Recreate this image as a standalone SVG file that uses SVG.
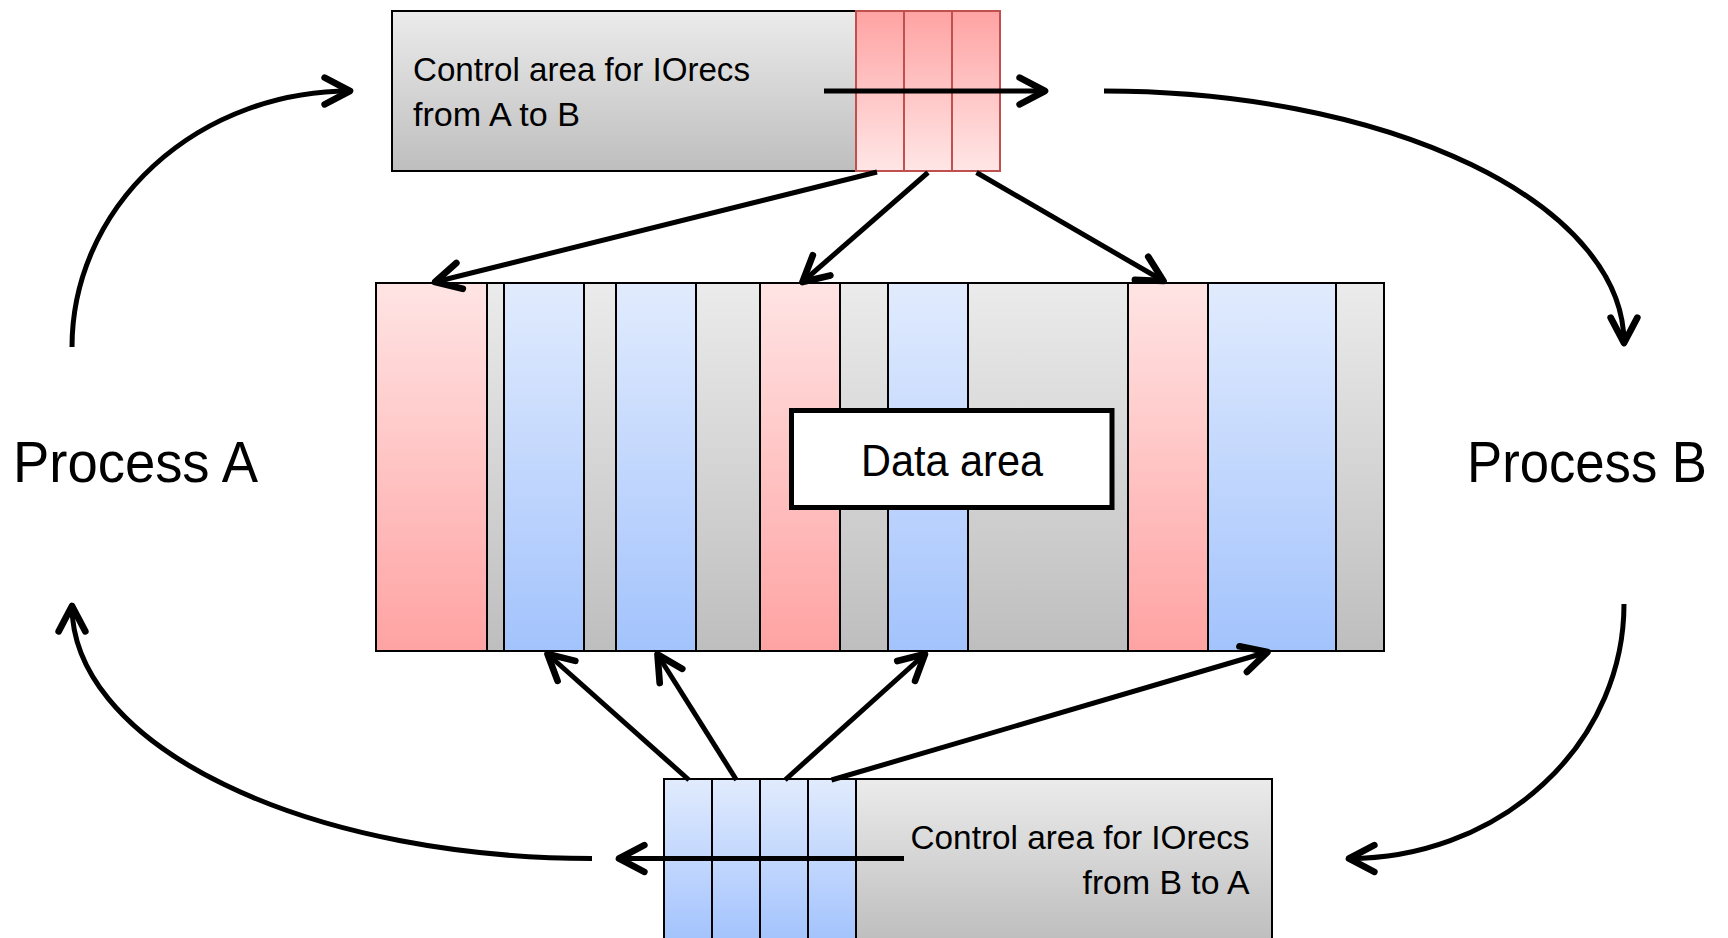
<svg xmlns="http://www.w3.org/2000/svg" width="1728" height="938" viewBox="0 0 1728 938">
<defs>
<linearGradient id="gGray" x1="0" y1="0" x2="0" y2="1"><stop offset="0" stop-color="#EBEBEB"/><stop offset="1" stop-color="#BEBEBE"/></linearGradient>
<linearGradient id="gRed" x1="0" y1="0" x2="0" y2="1"><stop offset="0" stop-color="#FFE4E4"/><stop offset="1" stop-color="#FFA3A3"/></linearGradient>
<linearGradient id="gRedInv" x1="0" y1="0" x2="0" y2="1"><stop offset="0" stop-color="#FFA3A3"/><stop offset="1" stop-color="#FFE6E6"/></linearGradient>
<linearGradient id="gBlue" x1="0" y1="0" x2="0" y2="1"><stop offset="0" stop-color="#E1EBFD"/><stop offset="1" stop-color="#A3C3FD"/></linearGradient>
<marker id="arr" markerUnits="userSpaceOnUse" markerWidth="40" markerHeight="40" viewBox="-25 -15 30 30" refX="0" refY="0" orient="auto" overflow="visible">
<path d="M-19,-10 L0,0 L-19,10" fill="none" stroke="#000" stroke-width="5" stroke-linecap="round" stroke-linejoin="round"/>
</marker>
<style>
.k{stroke:#000;stroke-width:2}
.rc{stroke:#C0504D;stroke-width:2}
.t{font-family:"Liberation Sans",Arial,sans-serif;fill:#000}
.c{fill:none;stroke:#000;stroke-width:5;marker-end:url(#arr)}
</style>
</defs>
<rect width="1728" height="938" fill="#fff"/>

<g id="ctrlAB">
<rect x="392" y="11" width="464" height="160" fill="url(#gGray)" class="k"/>
<rect x="856" y="11" width="48" height="160" fill="url(#gRedInv)" class="rc"/>
<rect x="904" y="11" width="48" height="160" fill="url(#gRedInv)" class="rc"/>
<rect x="952" y="11" width="48" height="160" fill="url(#gRedInv)" class="rc"/>
<text class="t" x="413" y="81" font-size="33" textLength="337" lengthAdjust="spacingAndGlyphs">Control area for IOrecs</text>
<text class="t" x="413" y="126" font-size="33" textLength="167" lengthAdjust="spacingAndGlyphs">from A to B</text>
</g>

<g id="dataArea">
<rect x="376" y="283" width="111" height="368" fill="url(#gRed)" class="k"/>
<rect x="487" y="283" width="17" height="368" fill="url(#gGray)" class="k"/>
<rect x="504" y="283" width="80" height="368" fill="url(#gBlue)" class="k"/>
<rect x="584" y="283" width="32" height="368" fill="url(#gGray)" class="k"/>
<rect x="616" y="283" width="80" height="368" fill="url(#gBlue)" class="k"/>
<rect x="696" y="283" width="64" height="368" fill="url(#gGray)" class="k"/>
<rect x="760" y="283" width="80" height="368" fill="url(#gRed)" class="k"/>
<rect x="840" y="283" width="48" height="368" fill="url(#gGray)" class="k"/>
<rect x="888" y="283" width="80" height="368" fill="url(#gBlue)" class="k"/>
<rect x="968" y="283" width="160" height="368" fill="url(#gGray)" class="k"/>
<rect x="1128" y="283" width="80" height="368" fill="url(#gRed)" class="k"/>
<rect x="1208" y="283" width="128" height="368" fill="url(#gBlue)" class="k"/>
<rect x="1336" y="283" width="48" height="368" fill="url(#gGray)" class="k"/>
<rect x="791.5" y="410.5" width="320.5" height="97" fill="#fff" stroke="#000" stroke-width="5"/>
<text class="t" x="861" y="476" font-size="44" textLength="182" lengthAdjust="spacingAndGlyphs">Data area</text>
</g>

<g id="ctrlBA">
<rect x="664" y="779" width="48" height="162" fill="url(#gBlue)" class="k"/>
<rect x="712" y="779" width="48" height="162" fill="url(#gBlue)" class="k"/>
<rect x="760" y="779" width="48" height="162" fill="url(#gBlue)" class="k"/>
<rect x="808" y="779" width="48" height="162" fill="url(#gBlue)" class="k"/>
<rect x="856" y="779" width="416" height="162" fill="url(#gGray)" class="k"/>
<text class="t" x="910.5" y="849" font-size="33" textLength="339" lengthAdjust="spacingAndGlyphs">Control area for IOrecs</text>
<text class="t" x="1082.5" y="894" font-size="33" textLength="167" lengthAdjust="spacingAndGlyphs">from B to A</text>
</g>

<g id="procA">
<text class="t" x="13" y="482" font-size="58" textLength="245" lengthAdjust="spacingAndGlyphs">Process A</text>
</g>
<g id="procB">
<text class="t" x="1467" y="482" font-size="58" textLength="240" lengthAdjust="spacingAndGlyphs">Process B</text>
</g>

<g id="connectors">
<path class="c" d="M824,91 L1045,91"/>
<path class="c" d="M904,858.5 L619,858.5"/>
<path class="c" d="M72,347 A278,256 0 0 1 350,91"/>
<path class="c" d="M1104,91 A520,252 0 0 1 1624,343"/>
<path class="c" d="M1624,604 A275,254.5 0 0 1 1349,858.5"/>
<path class="c" d="M592,858.5 A520,252.5 0 0 1 72,606"/>
<path class="c" d="M877,172 L435,282"/>
<path class="c" d="M928,172.5 L802.5,282"/>
<path class="c" d="M976.5,172.5 L1163.5,281"/>
<path class="c" d="M689,780 L547.5,654"/>
<path class="c" d="M736.5,780 L657.5,654.5"/>
<path class="c" d="M785,780 L925,654"/>
<path class="c" d="M831.5,780 L1267.5,652"/>
</g>
</svg>
